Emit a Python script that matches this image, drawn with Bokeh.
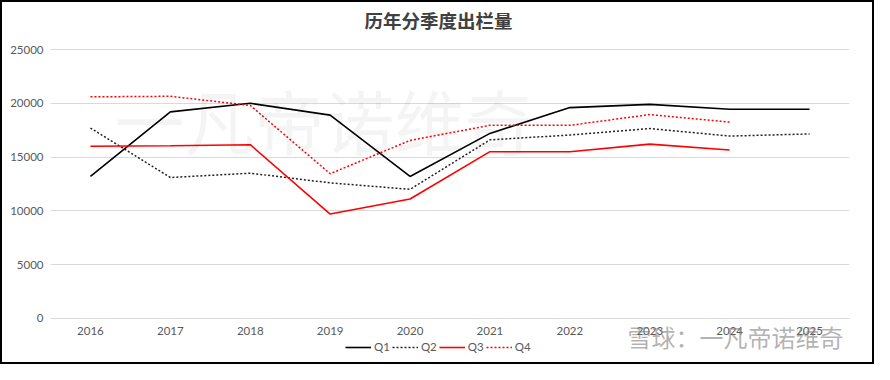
import numpy as np
from bokeh.plotting import figure
from bokeh.models import ColumnDataSource, Legend, LegendItem, Label, Range1d, FactorRange, SingleIntervalTicker
from bokeh.embed import file_html
from bokeh.resources import INLINE

title_text = "历年分季度出栏量"
years = ["2016", "2017", "2018", "2019", "2020", "2021", "2022", "2023", "2024", "2025"]
q1 = [13200, 19200, 20000, 18900, 13200, 17200, 19600, 19900, 19450, 19450]
q2 = [17700, 13100, 13500, 12600, 12000, 16600, 17050, 17650, 16950, 17150]
q3 = [16000, 16050, 16150, 9700, 11100, 15500, 15500, 16200, 15650, np.nan]
q4 = [20600, 20650, 19800, 13450, 16550, 17950, 17950, 18950, 18250, np.nan]

src = ColumnDataSource(dict(year=years, q1=q1, q2=q2, q3=q3, q4=q4))

p = figure(width=874, height=364, output_backend="svg", toolbar_location=None,
           x_range=FactorRange(factors=years, range_padding=0),
           y_range=Range1d(-4286, 29184),
           min_border_left=48, min_border_right=27, min_border_top=2, min_border_bottom=2)

p.outline_line_color = None
p.background_fill_color = "white"
p.border_fill_color = "white"

# title
p.add_layout(Label(x=388, y=345, x_units="screen", y_units="screen",
                   text=title_text, text_font="Noto Sans CJK SC", text_font_size="18.5px",
                   text_font_style="bold", text_color="#404040",
                   text_align="center", text_baseline="middle"))

# faint watermark
p.add_layout(Label(x=274, y=245, x_units="screen", y_units="screen",
                   text="一凡帝诺维奇", text_font="Noto Sans CJK SC", text_font_size="70px",
                   text_color="#000000", text_alpha=0.045, text_align="center", text_baseline="middle"))

r1 = p.line("year", "q1", source=src, line_color="black", line_width=1.6)
r2 = p.line("year", "q2", source=src, line_color="#222222", line_width=1.5, line_dash="2 2")
r3 = p.line("year", "q3", source=src, line_color="#ff0000", line_width=1.6)
r4 = p.line("year", "q4", source=src, line_color="#ff0000", line_width=1.5, line_dash="2 2")

p.yaxis.ticker = SingleIntervalTicker(interval=5000)
p.yaxis.axis_line_color = None
p.yaxis.major_tick_line_color = None
p.yaxis.minor_tick_line_color = None
p.yaxis.major_tick_out = 0
p.yaxis.major_tick_in = 0
p.yaxis.minor_tick_out = 0
p.yaxis.major_label_text_color = "#595959"
p.yaxis.major_label_text_font = "Lato"
p.yaxis.major_label_text_font_size = "11.5px"
p.yaxis.major_label_standoff = 7

p.xaxis.fixed_location = 0
p.xaxis.axis_line_color = "#d9d9d9"
p.xaxis.major_tick_line_color = None
p.xaxis.minor_tick_line_color = None
p.xaxis.major_tick_out = 0
p.xaxis.major_tick_in = 0
p.xaxis.major_label_text_color = "#595959"
p.xaxis.major_label_text_font = "Lato"
p.xaxis.major_label_text_font_size = "11.5px"
p.xaxis.major_label_standoff = 9

p.xgrid.grid_line_color = None
p.ygrid.grid_line_color = "#d9d9d9"

legend = Legend(items=[LegendItem(label="Q1", renderers=[r1]),
                       LegendItem(label="Q2", renderers=[r2]),
                       LegendItem(label="Q3", renderers=[r3]),
                       LegendItem(label="Q4", renderers=[r4])],
                orientation="horizontal", location=(295, 11),
                label_text_font="Lato", label_text_font_size="11.5px", label_text_color="#595959",
                glyph_width=26, glyph_height=10, label_standoff=3, spacing=2,
                label_width=10, label_height=12, background_fill_alpha=0, border_line_color=None,
                padding=0, margin=0)
p.add_layout(legend, "center")

p.add_layout(Label(x=577, y=28, x_units="screen", y_units="screen",
                   text="雪球：一凡帝诺维奇", text_font="Noto Sans CJK SC", text_font_size="24px",
                   text_color="#808080", text_alpha=0.6, text_align="left", text_baseline="middle"))

p.styles = {"border": "2px solid black", "box-sizing": "border-box"}

open("out.html", "w").write(file_html(p, INLINE))
